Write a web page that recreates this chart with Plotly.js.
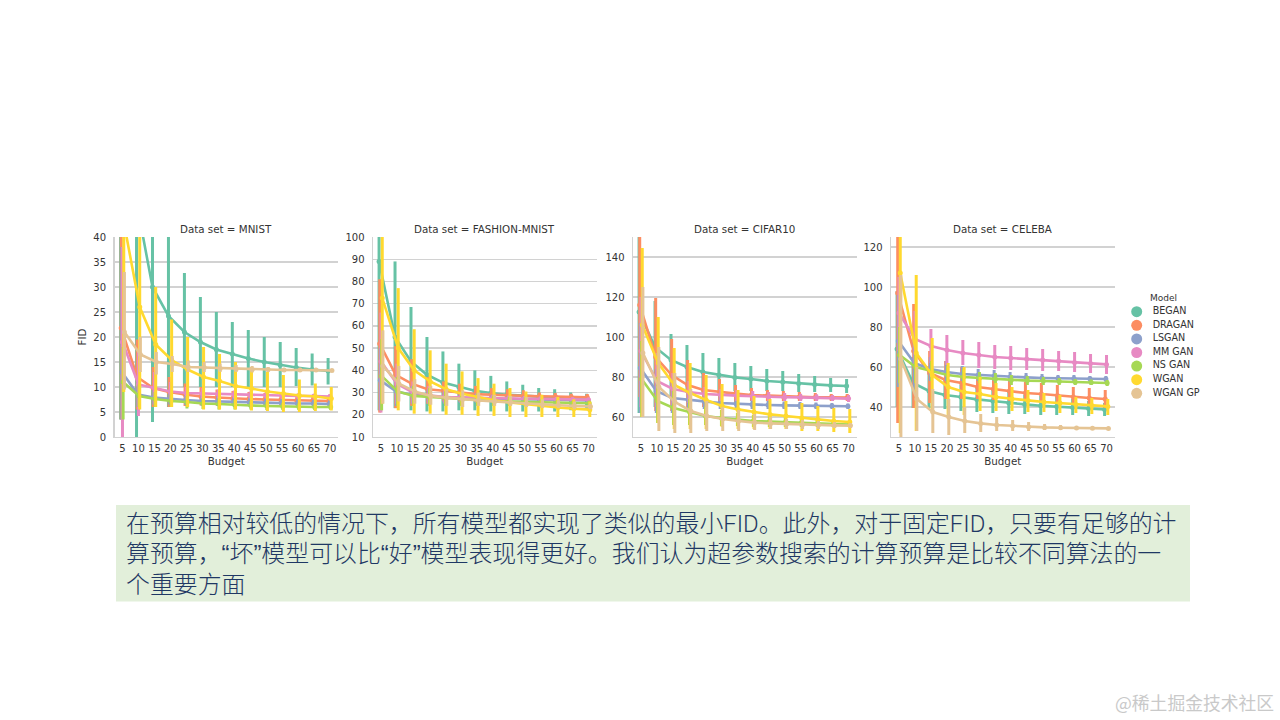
<!DOCTYPE html>
<html><head><meta charset="utf-8">
<script src="https://cdn.plot.ly/plotly-3.0.1.min.js"></script>
<style>html,body{margin:0;padding:0;background:#fff}#c{width:1280px;height:720px}</style>
</head><body><div id="c"></div>
<script>
const budgets=[5,10,15,20,25,30,35,40,45,50,55,60,65,70];
const models=["BEGAN","DRAGAN","LSGAN","MM GAN","NS GAN","WGAN","WGAN GP"];
const colors=["#66c2a5","#fc8d62","#8da0cb","#e78ac3","#a6d854","#ffd92f","#e5c494"];

// MNIST
const mnist_began_mean=[62,47,30,24.2,21,19,17.5,16.6,15.7,15,14.4,13.9,13.5,13.2];
const mnist_began_low=[3.5,0,3,6,10,10,10,10,10,10,10,10.2,10.3,10.5];
const mnist_began_high=[120,90,58,43,32.8,28,25,23,21.4,20,19,17.8,16.7,15.8];
const mnist_dragan_mean=[21.8,12,9.8,9,8.5,8.1,7.9,7.7,7.6,7.5,7.4,7.3,7.3,7.2];
const mnist_dragan_low=[3.5,5.5,6,6,6.2,6.3,6.3,6.4,6.4,6.4,6.4,6.4,6.4,6.4];
const mnist_dragan_high=[60,19.5,14,12,10.7,10,9.5,9.2,9,8.8,8.5,8.4,8.2,8];
const mnist_lsgan_mean=[13,8.5,7.9,7.6,7.4,7.2,7.1,7,6.9,6.8,6.8,6.7,6.7,6.6];
const mnist_lsgan_low=[3.5,6,6.5,6.5,6.4,6.3,6.2,6.2,6.1,6.1,6.1,6.1,6.1,6.1];
const mnist_lsgan_high=[38,11,9.5,9,8.6,8.4,8.2,8,7.9,7.7,7.6,7.5,7.4,7.3];
const mnist_mmgan_mean=[19,10.5,9.8,9.1,8.8,8.7,8.6,8.5,8.4,8.3,8.3,8.2,8.2,8.1];
const mnist_mmgan_low=[0,4.2,6.5,7,7.5,7.6,7.7,7.7,7.7,7.7,7.6,7.6,7.5,7.5];
const mnist_mmgan_high=[38,17,13,11,10,9.8,9.5,9.3,9.1,9,8.9,8.7,8.6,8.6];
const mnist_nsgan_mean=[11,8.2,7.6,7.2,7,6.7,6.6,6.4,6.3,6.2,6.1,6.1,6,6];
const mnist_nsgan_low=[3.5,6,6,6,5.7,5.6,5.5,5.5,5.5,5.4,5.4,5.4,5.4,5.4];
const mnist_nsgan_high=[18,10.5,9,8.5,8.2,7.8,7.7,7.4,7.1,7,6.8,6.7,6.6,6.5];
const mnist_wgan_mean=[43,26,18.5,15.4,13.5,12,11.2,10.2,9.7,9.1,8.7,8.3,8.1,7.7];
const mnist_wgan_low=[9,5.5,6,6,6,5.5,5.5,5.5,5.3,5.2,5,5,5.2,5.3];
const mnist_wgan_high=[85,52,30,23.5,20,18,16.6,15,14,13,12.4,11.5,10.7,10];
const mnist_wgangp_mean=[21,16.5,15,14.6,14,13.9,13.7,13.6,13.5,13.5,13.4,13.4,13.4,13.3];
const mnist_wgangp_low=[9.5,13,12.5,13,13,13,13,13,12.9,13,13,13.1,13.1,13.1];
const mnist_wgangp_high=[33,20,17,16.2,15.3,15,14.7,14.4,14.2,14,13.8,13.7,13.6,13.5];

// FASHION-MNIST
const fashion_began_mean=[89,55,44,38,34.5,32.5,30.8,29.8,29,28.6,28,27.7,27.3,27];
const fashion_began_low=[22,23,22,21.5,21.5,22,22,21.5,21.5,21.5,21.5,21.5,22,22.5];
const fashion_began_high=[130,89,68.5,55,48.5,43,40,37.5,35,33.5,32,31.5,30,29.5];
const fashion_dragan_mean=[52,38,34,31.5,30.8,30,29.3,29,28.7,28.5,28.3,28.2,28,27.9];
const fashion_dragan_low=[21,23,24,25,26,26,26,26,26.5,26.5,26.5,26.5,26.5,26.5];
const fashion_dragan_high=[81,51,45,37,35,34,33,32,31.5,31,30,29.8,29.5,29.3];
const fashion_lsgan_mean=[35.5,30.5,29,28.3,28,27.7,27.5,27.3,27.1,27,26.8,26.7,26.6,26.5];
const fashion_lsgan_low=[22,24,25,25.5,25.5,25.5,25.5,25.5,25.5,25.5,25.5,25.5,25.5,25.5];
const fashion_lsgan_high=[50,37,33,31.5,30.5,30,29.5,29,28.5,28.3,28,27.8,27.6,27.5];
const fashion_mmgan_mean=[44,34,30,28.8,28,27.8,27.5,27.4,27.3,27.2,27.1,27,26.9,26.8];
const fashion_mmgan_low=[21,25,25,25,25,25.5,25.5,25.5,25.5,25.5,25.5,25.5,25.5,25.5];
const fashion_mmgan_high=[66,43,35,33,31,30,29.5,29,28.7,28.4,28.2,28,27.8,27.6];
const fashion_nsgan_mean=[37.5,30.5,28.5,28,27.5,27,26.6,26.2,26,25.8,25.6,25.4,25.3,25.2];
const fashion_nsgan_low=[22,24,24,24,24,24,24,24,24,24,24,24,24,24];
const fashion_nsgan_high=[54,37,33,32,31,30,29.5,28.5,28,27.7,27.2,26.8,26.5,26.3];
const fashion_wgan_mean=[72.5,50,40,35,31.5,29.5,28,26.5,25.5,24.7,24,23.3,22.7,22.3];
const fashion_wgan_low=[25,22,20.5,20.5,20,20,19.5,19.5,19,19,19,19,19,19];
const fashion_wgan_high=[125,77,58.5,49,43,39.5,36.5,34,32,30.5,29,28,27,26];
const fashion_wgangp_mean=[42,34,30.5,28.5,27.7,27,26.5,26,25.5,25,24.6,24.3,24,23.7];
const fashion_wgangp_low=[25,26,25,24.5,24,23.5,24,24,24,23.5,23,23,22.5,22.5];
const fashion_wgangp_high=[58,42,36,33,31.5,31,30,29,28.5,28,27,26.5,26,25];

// CIFAR10
const cifar_began_mean=[112.5,95,88.5,85,82.5,81,79.8,79,78,77.5,76.8,76.3,75.8,75.5];
const cifar_began_low=[62,65,70,72,72,73,73,73,73,73,72.5,72.5,72.5,72];
const cifar_began_high=[163,118,101.5,96,92,89.5,87,85.5,84,83,81.5,80.5,79.5,79];
const cifar_dragan_mean=[116,90,81,76,73.5,72.5,71.7,71,70.7,70.3,70,69.9,69.8,69.7];
const cifar_dragan_low=[70,63,63,64,65,67,67,68,68,68,68,68,68,68];
const cifar_dragan_high=[160,119.5,99,88.5,82,79,76,74.5,73.5,73,72.5,72,71.5,71.5];
const cifar_lsgan_mean=[84.5,73,69.5,68.5,67.8,67,66.6,66.3,66,65.8,65.7,65.6,65.5,65.4];
const cifar_lsgan_low=[62,62,62,64,64,64,64,64,64,64,64,64,64,64];
const cifar_lsgan_high=[107,84,77,73,72,70.5,69,68.5,68,67.7,67.5,67.2,67,66.8];
const cifar_mmgan_mean=[93,78,74,72.5,71.5,71,70.7,70.4,70,69.9,69.8,69.7,69.5,69.2];
const cifar_mmgan_low=[65,65,66,67,68,68,68,68,68,68,68,68,68,67.5];
const cifar_mmgan_high=[120,92,82,78,75,74,73.5,73,72.5,72,71.6,71.4,71,71];
const cifar_nsgan_mean=[79,68,64.5,62.5,60.5,59.5,58.7,58,57.7,57.4,57,56.7,56.4,56.2];
const cifar_nsgan_low=[60,57,56,56,56,55.5,55.5,55,55,55,55,55,55,55];
const cifar_nsgan_high=[98,80,73,69,65,63.5,62,61,60.5,60,59,58.5,58,57.5];
const cifar_wgan_mean=[106,87,76,72,68.5,65.5,63.8,62.5,61.3,60.5,59.5,58.8,58,57.5];
const cifar_wgan_low=[60,57,54,54,54,55,54,54,54,54,53,53,52.5,52];
const cifar_wgan_high=[144.5,110,94.5,87,81,76.5,73.5,70.5,69,68,67,65.5,64.5,64];
const cifar_wgangp_mean=[92,75,67.5,63,60.5,59,58,57.2,56.8,56.5,56.2,56,55.8,55.7];
const cifar_wgangp_low=[60,53,52,52,53,53,53,53.5,54,54,54,54,54.5,54.5];
const cifar_wgangp_high=[125,95,82,74,68,65,63.5,61.5,60,59,58.5,58,57.5,57];

// CELEBA
const celeba_began_mean=[69,52,48,46,45,43.8,43,42,41.3,40.6,40.2,39.7,39.2,38.8];
const celeba_began_low=[40,39.5,39.5,39,38,37.5,37,36.5,36.5,36,36,36,35.5,35.5];
const celeba_began_high=[98,65,58,53,51,49.5,48.5,47.5,46,45.5,45,44,43,42];
const celeba_dragan_mean=[97,68,57,53.5,52,50,49,48,47,46.5,45.8,45,44.5,44];
const celeba_dragan_low=[32,39.5,42,44,44,44,43.5,43,43,42.5,42,41,40.5,39.5];
const celeba_dragan_high=[160,91.5,68,63,60,56.5,55,54,52.5,52,51,50,49.5,48.5];
const celeba_lsgan_mean=[73,62,59,57.5,56.5,56,55.5,55,54.8,54.5,54.4,54.2,54.1,54];
const celeba_lsgan_low=[50,48,53,53,53,53,53,52.5,52.5,52.5,52.5,52.5,52.5,52.5];
const celeba_lsgan_high=[96,76,65,63,60.5,59,58.5,57.5,57,56.5,56,56,55.5,55.5];
const celeba_mmgan_mean=[87,74,70.5,68.5,67,66,65,64.5,64,63.5,63,62.3,61.7,61.3];
const celeba_mmgan_low=[68,60,62,61,61,59.5,59,58.5,58.5,58,58,57.5,57,56.5];
const celeba_mmgan_high=[105,88,79,76,73.5,72.5,71,70.5,69.5,69,68,67.5,66.5,66];
const celeba_nsgan_mean=[66,60,58,56,55,54.5,54,53.5,53.2,53,52.7,52.5,52.3,52];
const celeba_nsgan_low=[52,52,53,52,52,52,51.5,51,51,51,51,51,51,50.5];
const celeba_nsgan_high=[80,68,63,60.5,59,57.5,57,56,55.5,55,54.5,54,53.8,53.5];
const celeba_wgan_mean=[107,67,56,50,47.5,46.5,45,44,43.3,42.5,42,41.3,40.8,40.3];
const celeba_wgan_low=[27,28,37,36,36,38,38,38,37.5,37.5,37,37,36.5,36];
const celeba_wgan_high=[180,106,74.5,62,60,55,52,50,48.5,47,46,45,44.5,44];
const celeba_wgangp_mean=[64,44,37.5,35,33,31.8,31,30.5,30,29.8,29.6,29.5,29.4,29.3];
const celeba_wgangp_low=[25,28,27,26,27,27.5,28,28,28,28.5,28.5,28.7,28.8,29];
const celeba_wgangp_high=[106,60,49,44,40,36.5,35,33.5,32.5,31.5,31,30.5,30,29.8];

const panelTitles=["Data set = MNIST","Data set = FASHION-MNIST","Data set = CIFAR10","Data set = CELEBA"];
const panelSeries=[
 [[mnist_began_mean,mnist_began_low,mnist_began_high],[mnist_dragan_mean,mnist_dragan_low,mnist_dragan_high],[mnist_lsgan_mean,mnist_lsgan_low,mnist_lsgan_high],[mnist_mmgan_mean,mnist_mmgan_low,mnist_mmgan_high],[mnist_nsgan_mean,mnist_nsgan_low,mnist_nsgan_high],[mnist_wgan_mean,mnist_wgan_low,mnist_wgan_high],[mnist_wgangp_mean,mnist_wgangp_low,mnist_wgangp_high]],
 [[fashion_began_mean,fashion_began_low,fashion_began_high],[fashion_dragan_mean,fashion_dragan_low,fashion_dragan_high],[fashion_lsgan_mean,fashion_lsgan_low,fashion_lsgan_high],[fashion_mmgan_mean,fashion_mmgan_low,fashion_mmgan_high],[fashion_nsgan_mean,fashion_nsgan_low,fashion_nsgan_high],[fashion_wgan_mean,fashion_wgan_low,fashion_wgan_high],[fashion_wgangp_mean,fashion_wgangp_low,fashion_wgangp_high]],
 [[cifar_began_mean,cifar_began_low,cifar_began_high],[cifar_dragan_mean,cifar_dragan_low,cifar_dragan_high],[cifar_lsgan_mean,cifar_lsgan_low,cifar_lsgan_high],[cifar_mmgan_mean,cifar_mmgan_low,cifar_mmgan_high],[cifar_nsgan_mean,cifar_nsgan_low,cifar_nsgan_high],[cifar_wgan_mean,cifar_wgan_low,cifar_wgan_high],[cifar_wgangp_mean,cifar_wgangp_low,cifar_wgangp_high]],
 [[celeba_began_mean,celeba_began_low,celeba_began_high],[celeba_dragan_mean,celeba_dragan_low,celeba_dragan_high],[celeba_lsgan_mean,celeba_lsgan_low,celeba_lsgan_high],[celeba_mmgan_mean,celeba_mmgan_low,celeba_mmgan_high],[celeba_nsgan_mean,celeba_nsgan_low,celeba_nsgan_high],[celeba_wgan_mean,celeba_wgan_low,celeba_wgan_high],[celeba_wgangp_mean,celeba_wgangp_low,celeba_wgangp_high]]
];
const yRanges=[[0,40],[10,100],[50,150],[25,125]];
const yTicks=[[0,5,10,15,20,25,30,35,40],[10,20,30,40,50,60,70,80,90,100],[60,80,100,120,140],[40,60,80,100,120]];
const noteLines=[
 "在预算相对较低的情况下，所有模型都实现了类似的最小FID。此外，对于固定FID，只要有足够的计",
 "算预算，“坏”模型可以比“好”模型表现得更好。我们认为超参数搜索的计算预算是比较不同算法的一",
 "个重要方面"];
const watermark="@稀土掘金技术社区";

const W=1280,H=720;
const px=v=>v/W, py=v=>1-v/H;
const panelLeft=[114.5,373,633,891], panelWidth=223.5, plotTop=237, plotBottom=437;
const dodge=0.04, sans="'DejaVu Sans'", cjk="'Noto Sans CJK SC'";
const ink="#333333", gridCol="#d2d2d2";

const traces=[];
const layout={width:W,height:H,margin:{l:0,r:0,t:0,b:0},paper_bgcolor:"#fff",plot_bgcolor:"#fff",showlegend:false,
  font:{family:sans,size:9.5,color:ink},shapes:[],annotations:[]};

panelSeries.forEach((series,p)=>{
  const n=p+1, xa=n===1?"x":"x"+n, ya=n===1?"y":"y"+n;
  series.forEach((s,m)=>{
    const [mean,low,high]=s;
    traces.push({type:"scatter",mode:"lines+markers",xaxis:xa,yaxis:ya,name:models[m],
      x:budgets.map((b,i)=>i+(m-3)*dodge),y:mean,
      line:{color:colors[m],width:2.6},marker:{color:colors[m],size:5},
      error_y:{type:"data",symmetric:false,array:high.map((h,i)=>h-mean[i]),arrayminus:low.map((l,i)=>mean[i]-l),color:colors[m],thickness:3,width:0}});
  });
  layout["xaxis"+(n===1?"":n)]={domain:[px(panelLeft[p]),px(panelLeft[p]+panelWidth)],anchor:ya,range:[-0.5,13.5],
    tickmode:"array",tickvals:budgets.map((b,i)=>i),ticktext:budgets.map(String),tickangle:0,showgrid:false,zeroline:false,
    showline:true,linecolor:gridCol,linewidth:1.4,ticks:"outside",ticklen:1.5,tickcolor:"rgba(0,0,0,0)",tickfont:{family:sans,size:10,color:ink},
    title:{text:"Budget",font:{family:sans,size:10.3,color:ink},standoff:5}};
  layout["yaxis"+(n===1?"":n)]={domain:[py(plotBottom),py(plotTop)],anchor:xa,range:yRanges[p],
    tickmode:"array",tickvals:yTicks[p],showgrid:true,gridcolor:gridCol,gridwidth:1.4,zeroline:false,
    showline:true,linecolor:gridCol,linewidth:1.4,ticks:"outside",ticklen:5,tickcolor:"rgba(0,0,0,0)",tickfont:{family:sans,size:10,color:ink},
    title:p===0?{text:"FID",font:{family:sans,size:10.3,color:ink},standoff:4}:{text:""}};
  layout.annotations.push({xref:"paper",yref:"paper",x:px(panelLeft[p]+panelWidth/2),y:py(229.5),text:panelTitles[p],showarrow:false,
    xanchor:"center",yanchor:"middle",font:{family:sans,size:10.3,color:ink}});
});

// key drawn as a small marks-and-text subplot
traces.push({type:"scatter",mode:"markers",xaxis:"x5",yaxis:"y5",x:models.map(()=>0),y:models.map((m,i)=>i),
  cliponaxis:false,marker:{color:colors,size:11}});
traces.push({type:"scatter",mode:"text",xaxis:"x5",yaxis:"y5",x:models.map(()=>16),y:models.map((m,i)=>i),
  text:models,textposition:"middle right",textfont:{family:sans,size:9.6,color:ink},cliponaxis:false});
layout.xaxis5={domain:[px(1120),px(1210)],anchor:"y5",range:[-16.7,73.3],visible:false};
layout.yaxis5={domain:[py(400.1),py(304.9)],anchor:"x5",range:[6.5,-0.5],visible:false};
layout.annotations.push({xref:"paper",yref:"paper",x:px(1163),y:py(298),text:"Model",showarrow:false,xanchor:"center",yanchor:"middle",
  font:{family:sans,size:9,color:ink}});

// caption
layout.shapes.push({type:"rect",xref:"paper",yref:"paper",x0:px(116),x1:px(1190),y0:py(505),y1:py(601.5),fillcolor:"#e2efda",line:{width:0},layer:"below"});
const lineY=[524,553.5,582];
const lineFonts=["Roboto,"+cjk,"'Liberation Sans',"+cjk,cjk];
noteLines.forEach((t,i)=>layout.annotations.push({xref:"paper",yref:"paper",x:px(123.5),y:py(lineY[i]),text:t,showarrow:false,xanchor:"left",yanchor:"middle",
  font:{family:lineFonts[i],size:23.9,color:"#1f3864",weight:300}}));
layout.annotations.push({xref:"paper",yref:"paper",x:px(1276),y:py(702),text:watermark,showarrow:false,xanchor:"right",yanchor:"middle",
  font:{family:cjk,size:17.8,color:"#c9c9c9"}});

Plotly.newPlot("c",traces,layout,{displayModeBar:false,staticPlot:true});
</script></body></html>
